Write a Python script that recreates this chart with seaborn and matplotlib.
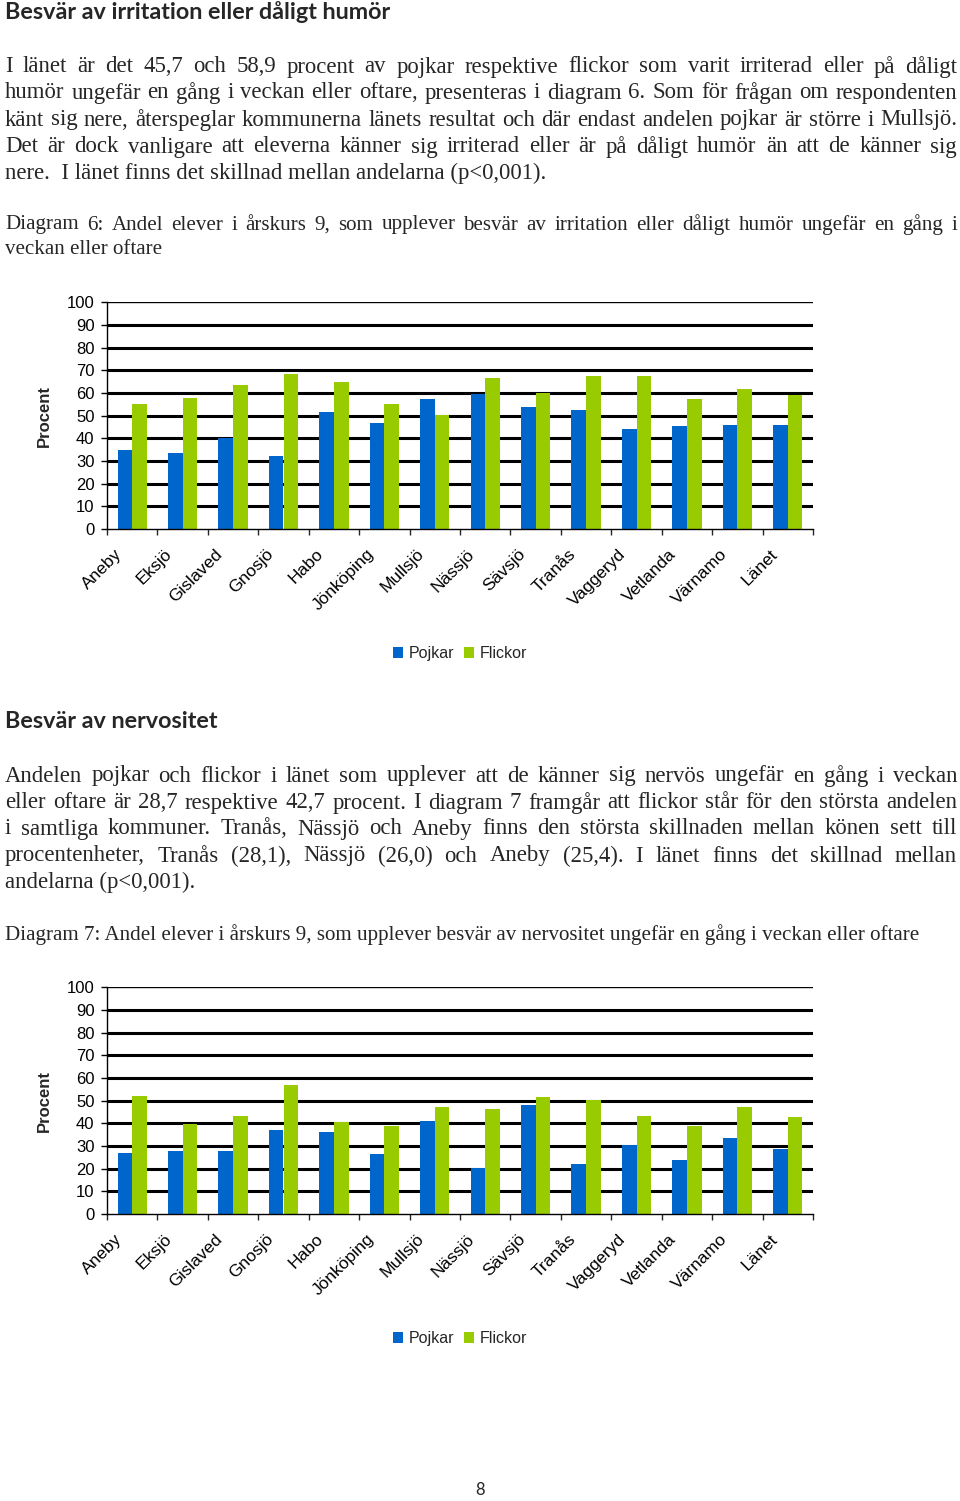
import numpy as np
import pandas as pd
import matplotlib
matplotlib.use("Agg")
import matplotlib.pyplot as plt
import matplotlib.transforms as mtransforms
import seaborn as sns

# ---------------- data ----------------
kommuner = ["Aneby", "Eksjö", "Gislaved", "Gnosjö", "Habo", "Jönköping", "Mullsjö",
            "Nässjö", "Sävsjö", "Tranås", "Vaggeryd", "Vetlanda", "Värnamo", "Länet"]
irritation_pojkar = [34.9, 33.5, 40.0, 32.2, 51.6, 46.8, 57.2, 59.4, 53.7, 52.4, 44.0, 45.3, 46.0, 45.7]
irritation_flickor = [55.0, 57.9, 63.4, 68.4, 64.7, 55.0, 50.1, 66.8, 59.9, 67.5, 67.5, 57.2, 61.9, 58.9]
nervositet_pojkar = [26.7, 27.9, 27.9, 36.9, 36.3, 26.5, 41.2, 20.5, 48.1, 22.1, 30.6, 23.8, 33.4, 28.7]
nervositet_flickor = [52.1, 39.7, 43.2, 57.1, 40.6, 39.0, 47.4, 46.5, 51.5, 50.2, 43.2, 39.0, 47.2, 42.7]
serie_namn = ["Pojkar", "Flickor"]
farger = ["#0066CC", "#99CC00"]
yticks = [0, 10, 20, 30, 40, 50, 60, 70, 80, 90, 100]
ylabel = "Procent"

rubrik1 = "Besvär av irritation eller dåligt humör"
stycke1 = [
    "I länet är det 45,7 och 58,9 procent av pojkar respektive flickor som varit irriterad eller på dåligt",
    "humör ungefär en gång i veckan eller oftare, presenteras i diagram 6. Som för frågan om respondenten",
    "känt sig nere, återspeglar kommunerna länets resultat och där endast andelen pojkar är större i Mullsjö.",
    "Det är dock vanligare att eleverna känner sig irriterad eller är på dåligt humör än att de känner sig",
    "nere.  I länet finns det skillnad mellan andelarna (p<0,001).",
]
diagram6 = [
    "Diagram 6: Andel elever i årskurs 9, som upplever besvär av irritation eller dåligt humör ungefär en gång i",
    "veckan eller oftare",
]
rubrik2 = "Besvär av nervositet"
stycke2 = [
    "Andelen pojkar och flickor i länet som upplever att de känner sig nervös ungefär en gång i veckan",
    "eller oftare är 28,7 respektive 42,7 procent. I diagram 7 framgår att flickor står för den största andelen",
    "i samtliga kommuner. Tranås, Nässjö och Aneby finns den största skillnaden mellan könen sett till",
    "procentenheter, Tranås (28,1), Nässjö (26,0) och Aneby (25,4). I länet finns det skillnad mellan",
    "andelarna (p<0,001).",
]
diagram7 = ["Diagram 7: Andel elever i årskurs 9, som upplever besvär av nervositet ungefär en gång i veckan eller oftare"]
sidnummer = "8"

# ---------------- figure ----------------
W, H = 960, 1501
sns.set_style("white")
plt.rcParams["font.family"] = ["Liberation Sans", "DejaVu Sans"]
fig = plt.figure(figsize=(W / 100, H / 100), dpi=100)
fig.patch.set_facecolor("white")
renderer = fig.canvas.get_renderer()


def fx(x):
    return x / W


def fy(y):
    return 1 - y / H


def width_of(t):
    return t.get_window_extent(renderer=renderer).width


SERIF = ["Liberation Serif", "DejaVu Serif"]
HEAD = ["Lato", "DejaVu Sans"]


def fit_size(text, target, family, weight="normal"):
    probe = fig.text(0, 0, text, fontsize=14, family=family, fontweight=weight)
    fs = 14 * target / width_of(probe)
    probe.remove()
    return fs


body_fs = fit_size(stycke1[2], 945, SERIF)      # nearly un-stretched line in the reference
cap_fs = fit_size(diagram7[0], 916, SERIF)      # caption 7 spans x 5..921
head_fs = fit_size(rubrik1, 390, HEAD, "bold")  # heading spans x 5..395


def justified(line, y, fs, x0=5, x1=957):
    words = line.split()
    ts = [fig.text(0, fy(y), w, fontsize=fs, family=SERIF, va="center", ha="left") for w in words]
    ws = [width_of(t) for t in ts]
    gap = (x1 - x0 - sum(ws)) / (len(words) - 1)
    x = x0
    for t, w in zip(ts, ws):
        t.set_x(fx(x))
        x += w + gap


def left(line, y, fs, x0=5):
    fig.text(fx(x0), fy(y), line, fontsize=fs, family=SERIF, va="center", ha="left")


fig.text(fx(5), fy(12), rubrik1, fontsize=head_fs, family=HEAD, fontweight="bold", va="center")
for i, (ln, y) in enumerate(zip(stycke1, [67, 93, 120, 147, 173])):
    if i < len(stycke1) - 1:
        justified(ln, y, body_fs)
    else:
        left(ln, y, body_fs)
justified(diagram6[0], 225, cap_fs)
left(diagram6[1], 250, cap_fs)

fig.text(fx(5), fy(721), rubrik2, fontsize=head_fs, family=HEAD, fontweight="bold", va="center")
for i, (ln, y) in enumerate(zip(stycke2, [776, 803, 829, 856, 882])):
    if i < len(stycke2) - 1:
        justified(ln, y, body_fs)
    else:
        left(ln, y, body_fs)
left(diagram7[0], 935, cap_fs)

fig.text(fx(480), fy(1490), sidnummer, fontsize=12, family=HEAD, ha="center", va="center")

n = len(kommuner)


def draw_chart(ax, pojkar, flickor):
    df = pd.DataFrame({
        "Kommun": kommuner * 2,
        "Kön": [serie_namn[0]] * n + [serie_namn[1]] * n,
        "Procent": list(pojkar) + list(flickor),
    })
    sns.barplot(data=df, x="Kommun", y="Procent", hue="Kön", hue_order=serie_namn,
                palette=dict(zip(serie_namn, farger)), width=0.58, gap=0, saturation=1,
                linewidth=0, edgecolor="none", errorbar=None, ax=ax)
    ax.set_xlim(-0.5, n - 0.5)
    ax.set_ylim(0, 100)
    ax.set_yticks(yticks)
    ax.set_axisbelow(True)
    ax.yaxis.grid(True, color="black", linewidth=2.2)
    ax.xaxis.grid(False)
    gls = ax.get_ygridlines()
    gls[-1].set_linewidth(1.0)
    gls[0].set_visible(False)
    for s in ["top", "right"]:
        ax.spines[s].set_visible(False)
    for s in ["left", "bottom"]:
        ax.spines[s].set_color("black")
        ax.spines[s].set_linewidth(1.0)
    ax.tick_params(axis="y", left=True, direction="out", length=4, width=1, pad=5,
                   labelsize=12, colors="black")
    ax.set_xticks(range(n))
    ax.set_xticklabels(kommuner, rotation=45, ha="right", va="center", rotation_mode="anchor")
    ax.tick_params(axis="x", which="major", length=0, pad=2, labelsize=12.5, colors="black")
    ax.set_xticks(np.arange(-0.5, n), minor=True)
    ax.tick_params(axis="x", which="minor", bottom=True, length=4, width=1, direction="out")
    off = mtransforms.ScaledTranslation(-0.13, -0.20, fig.dpi_scale_trans)
    for lbl in ax.get_xticklabels():
        lbl.set_transform(lbl.get_transform() + off)
    ax.set_xlabel("")
    ax.set_ylabel(ylabel, fontsize=12, fontweight="bold")
    ax.yaxis.set_label_coords(-0.078, 0.5)
    sns.move_legend(ax, "center", bbox_to_anchor=(0.5, -0.55), ncol=2, frameon=False,
                    title=None, fontsize=11.5, handlelength=0.65, handleheight=0.65,
                    handletextpad=0.35, columnspacing=0.6)


ax_l, ax_r = 107, 813
for (top, bottom), (p, f) in zip([(302.3, 529), (987.3, 1214)],
                                 [(irritation_pojkar, irritation_flickor),
                                  (nervositet_pojkar, nervositet_flickor)]):
    ax = fig.add_axes([fx(ax_l), fy(bottom), (ax_r - ax_l) / W, (bottom - top) / H])
    ax.set_facecolor("white")
    draw_chart(ax, p, f)

fig.savefig("out.png", dpi=100, facecolor="white")
